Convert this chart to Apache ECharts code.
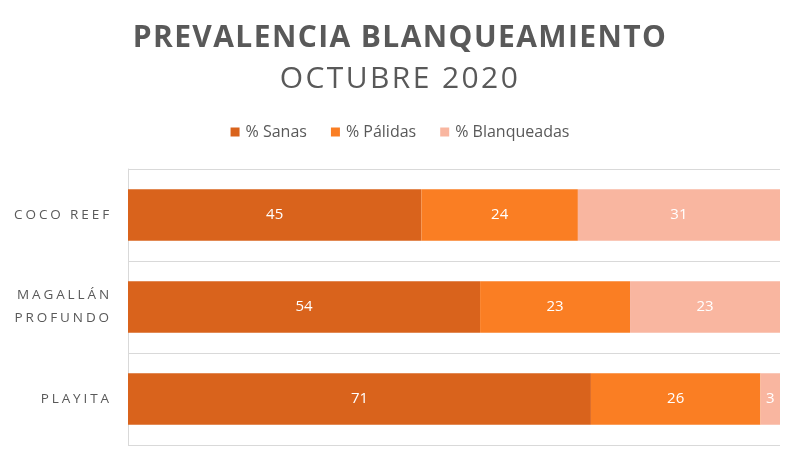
<!DOCTYPE html>
<html>
<head>
<meta charset="utf-8">
<script src="https://cdn.jsdelivr.net/npm/echarts@6/dist/echarts.min.js"></script>
<style>
html,body{margin:0;padding:0;background:#fff;}
#chart{width:800px;height:466px;}
</style>
</head>
<body>
<div id="chart"></div>
<script>
const categories = ['COCO REEF', 'MAGALLÁN\nPROFUNDO', 'PLAYITA'];
const seriesNames = ['% Sanas', '% Pálidas', '% Blanqueadas'];
const sanas = [45, 54, 71];
const palidas = [24, 23, 26];
const blanqueadas = [31, 23, 3];
const colors = ['#D9631C', '#FA7E23', '#F9B6A0'];

// letter-spaced rendering via rich text tokens (text stays real text)
function spaced(str, key) {
  return str.split('\n').map(line =>
    line.split('').map(c => '{' + key + '|' + c + '}').join('')
  ).join('\n');
}

const chart = echarts.init(document.getElementById('chart'), null, {renderer: 'canvas'});
const font = '"Open Sans", sans-serif';
const values = [sanas, palidas, blanqueadas];
chart.setOption({
  animation: false,
  backgroundColor: '#ffffff',
  title: [{
    text: spaced('PREVALENCIA BLANQUEAMIENTO', 't'),
    left: 'center', top: 18,
    textStyle: {
      rich: {t: {fontFamily: font, fontSize: 30, fontWeight: 'bold', color: '#595959', padding: [0, 1.4, 0, 0]}}
    }
  }, {
    text: spaced('OCTUBRE 2020', 's'),
    left: 'center', top: 59,
    textStyle: {
      rich: {s: {fontFamily: font, fontSize: 30, fontWeight: 'normal', color: '#595959', padding: [0, 2.4, 0, 0]}}
    }
  }],
  legend: {
    top: 119, left: 'center',
    itemWidth: 9, itemHeight: 9, itemGap: 24,
    icon: 'rect',
    textStyle: {fontFamily: font, fontSize: 16, color: '#595959', padding: [0,0,0,1]},
    data: seriesNames
  },
  grid: {left: 128, right: 20, top: 169, bottom: 21, containLabel: false},
  xAxis: {type: 'value', min: 0, max: 100, show: false},
  yAxis: {
    type: 'category', data: categories, inverse: true,
    axisLine: {show: true, lineStyle: {color: '#D9D9D9', width: 1}},
    axisTick: {show: false},
    splitLine: {show: true, lineStyle: {color: '#D9D9D9', width: 1}},
    axisLabel: {
      margin: 16, align: 'right', lineHeight: 23,
      formatter: v => spaced(v, 'c'),
      rich: {c: {fontFamily: font, fontSize: 13.5, color: '#595959', lineHeight: 23, padding: [0, 2.9, 0, 0]}}
    }
  },
  series: seriesNames.map((n, i) => ({
    name: n, type: 'bar', stack: 'total', barWidth: '56%',
    itemStyle: {color: colors[i]},
    label: {show: true, position: 'inside', color: '#ffffff', fontFamily: font, fontSize: 15},
    data: values[i]
  }))
});
</script>
</body>
</html>
